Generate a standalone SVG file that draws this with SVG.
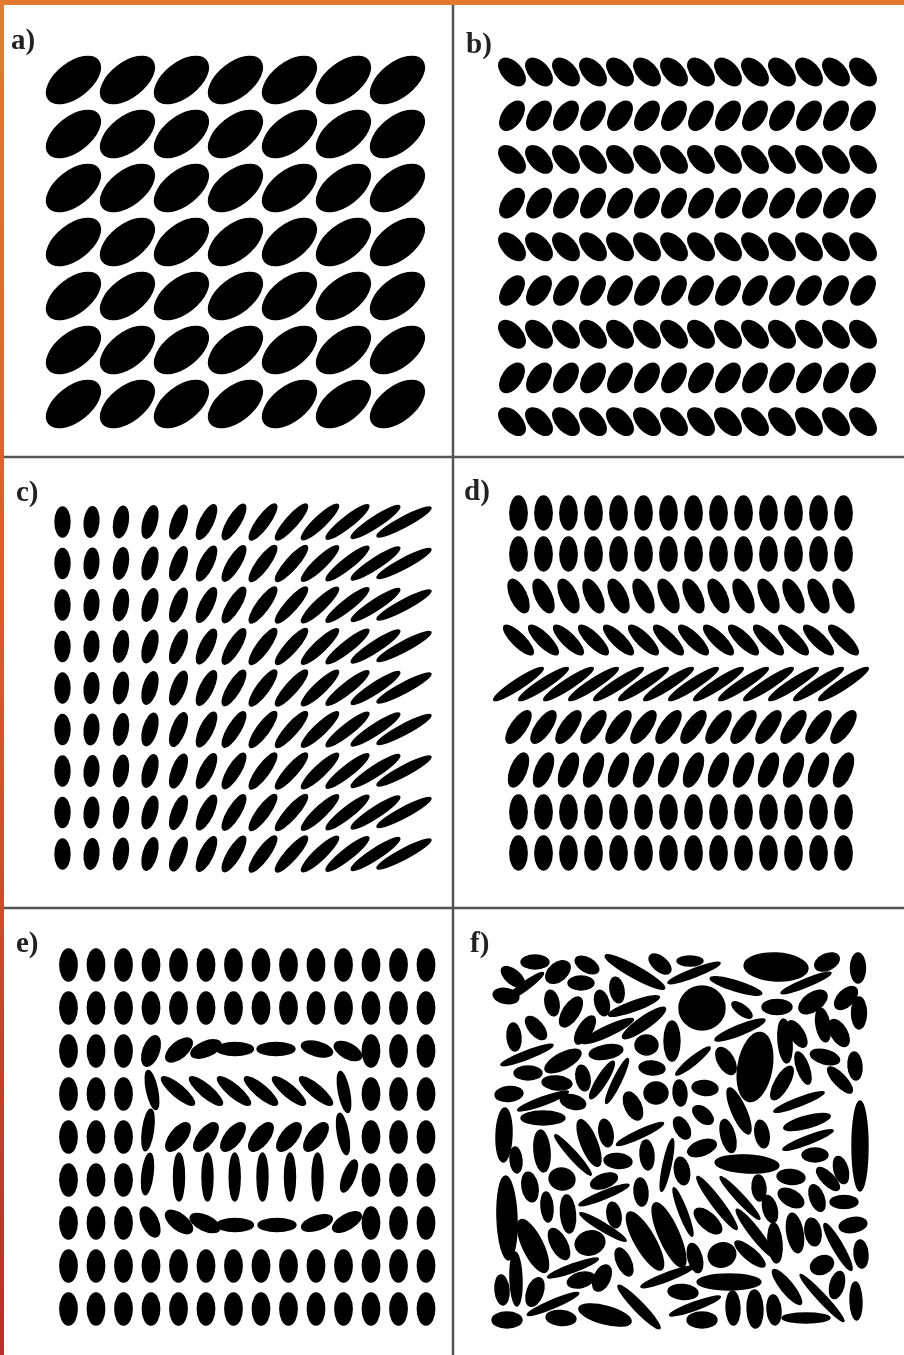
<svg xmlns="http://www.w3.org/2000/svg" xmlns:xlink="http://www.w3.org/1999/xlink" width="904" height="1355" viewBox="0 0 904 1355">
<style>
.lbl{font-family:"Liberation Serif","Times New Roman",serif;font-weight:bold;font-size:29px;fill:#222}
.grid{stroke:#555;stroke-width:2.5;fill:none}
ellipse{fill:#000;stroke:#000;stroke-width:1.4}
</style>
<defs>
<filter id="soft" x="-5%" y="-5%" width="110%" height="110%"><feGaussianBlur stdDeviation="0.7"/></filter>
<linearGradient id="lg" x1="0" y1="0" x2="0" y2="1"><stop offset="0" stop-color="#e27b2f"/><stop offset="0.5" stop-color="#d65a2b"/><stop offset="1" stop-color="#b3322a"/></linearGradient>
<ellipse id="aS" rx="31.5" ry="17" transform="rotate(-38)"/>
<g id="aRow"><use href="#aS" x="73.5"/><use href="#aS" x="127.5"/><use href="#aS" x="181.5"/><use href="#aS" x="235.5"/><use href="#aS" x="289.5"/><use href="#aS" x="343.5"/><use href="#aS" x="397.5"/></g>
<ellipse id="bA" rx="16.5" ry="9.5" transform="rotate(47)"/>
<ellipse id="bB" rx="16.5" ry="9.5" transform="rotate(-55)"/>
<g id="bRowA"><use href="#bA" x="512"/><use href="#bA" x="539"/><use href="#bA" x="566"/><use href="#bA" x="593"/><use href="#bA" x="620"/><use href="#bA" x="647"/><use href="#bA" x="674"/><use href="#bA" x="701"/><use href="#bA" x="728"/><use href="#bA" x="755"/><use href="#bA" x="782"/><use href="#bA" x="809"/><use href="#bA" x="836"/><use href="#bA" x="863"/></g>
<g id="bRowB"><use href="#bB" x="512"/><use href="#bB" x="539"/><use href="#bB" x="566"/><use href="#bB" x="593"/><use href="#bB" x="620"/><use href="#bB" x="647"/><use href="#bB" x="674"/><use href="#bB" x="701"/><use href="#bB" x="728"/><use href="#bB" x="755"/><use href="#bB" x="782"/><use href="#bB" x="809"/><use href="#bB" x="836"/><use href="#bB" x="863"/></g>
<g id="cRow">
<ellipse rx="15" ry="7.5" transform="translate(62.5,0) rotate(-90)"/>
<ellipse rx="15.3" ry="7.3" transform="translate(91.5,0) rotate(-84.8)"/>
<ellipse rx="15.9" ry="7.1" transform="translate(121,0) rotate(-79.7)"/>
<ellipse rx="16.7" ry="6.9" transform="translate(150,0) rotate(-74.5)"/>
<ellipse rx="17.8" ry="6.7" transform="translate(178.5,0) rotate(-69.3)"/>
<ellipse rx="18.9" ry="6.5" transform="translate(206.5,0) rotate(-64.2)"/>
<ellipse rx="20.3" ry="6.3" transform="translate(234,0) rotate(-59)"/>
<ellipse rx="21.8" ry="6.1" transform="translate(263,0) rotate(-53.8)"/>
<ellipse rx="23.4" ry="5.9" transform="translate(291.5,0) rotate(-48.7)"/>
<ellipse rx="25.1" ry="5.7" transform="translate(320,0) rotate(-43.5)"/>
<ellipse rx="27" ry="5.5" transform="translate(347.5,0) rotate(-38.3)"/>
<ellipse rx="28.9" ry="5.3" transform="translate(375.5,0) rotate(-33.2)"/>
<ellipse rx="30.5" ry="5.1" transform="translate(404,0) rotate(-28)"/>
</g>
<ellipse id="dV" rx="8.7" ry="17"/>
<ellipse id="d3" rx="18" ry="8" transform="rotate(65)"/>
<ellipse id="d4" rx="20" ry="6.5" transform="rotate(45)"/>
<ellipse id="d5" rx="29.5" ry="5" transform="rotate(-33)"/>
<ellipse id="d6" rx="19" ry="7.5" transform="rotate(-55)"/>
<ellipse id="d7" rx="18" ry="8" transform="rotate(-68)"/>
<g id="dRV"><use href="#dV" x="518.5"/><use href="#dV" x="543.5"/><use href="#dV" x="568.5"/><use href="#dV" x="593.5"/><use href="#dV" x="618.5"/><use href="#dV" x="643.5"/><use href="#dV" x="668.5"/><use href="#dV" x="693.5"/><use href="#dV" x="718.5"/><use href="#dV" x="743.5"/><use href="#dV" x="768.5"/><use href="#dV" x="793.5"/><use href="#dV" x="818.5"/><use href="#dV" x="843.5"/></g>
<g id="dR3"><use href="#d3" x="518.5"/><use href="#d3" x="543.5"/><use href="#d3" x="568.5"/><use href="#d3" x="593.5"/><use href="#d3" x="618.5"/><use href="#d3" x="643.5"/><use href="#d3" x="668.5"/><use href="#d3" x="693.5"/><use href="#d3" x="718.5"/><use href="#d3" x="743.5"/><use href="#d3" x="768.5"/><use href="#d3" x="793.5"/><use href="#d3" x="818.5"/><use href="#d3" x="843.5"/></g>
<g id="dR4"><use href="#d4" x="518.5"/><use href="#d4" x="543.5"/><use href="#d4" x="568.5"/><use href="#d4" x="593.5"/><use href="#d4" x="618.5"/><use href="#d4" x="643.5"/><use href="#d4" x="668.5"/><use href="#d4" x="693.5"/><use href="#d4" x="718.5"/><use href="#d4" x="743.5"/><use href="#d4" x="768.5"/><use href="#d4" x="793.5"/><use href="#d4" x="818.5"/><use href="#d4" x="843.5"/></g>
<g id="dR5"><use href="#d5" x="518.5"/><use href="#d5" x="543.5"/><use href="#d5" x="568.5"/><use href="#d5" x="593.5"/><use href="#d5" x="618.5"/><use href="#d5" x="643.5"/><use href="#d5" x="668.5"/><use href="#d5" x="693.5"/><use href="#d5" x="718.5"/><use href="#d5" x="743.5"/><use href="#d5" x="768.5"/><use href="#d5" x="793.5"/><use href="#d5" x="818.5"/><use href="#d5" x="843.5"/></g>
<g id="dR6"><use href="#d6" x="518.5"/><use href="#d6" x="543.5"/><use href="#d6" x="568.5"/><use href="#d6" x="593.5"/><use href="#d6" x="618.5"/><use href="#d6" x="643.5"/><use href="#d6" x="668.5"/><use href="#d6" x="693.5"/><use href="#d6" x="718.5"/><use href="#d6" x="743.5"/><use href="#d6" x="768.5"/><use href="#d6" x="793.5"/><use href="#d6" x="818.5"/><use href="#d6" x="843.5"/></g>
<g id="dR7"><use href="#d7" x="518.5"/><use href="#d7" x="543.5"/><use href="#d7" x="568.5"/><use href="#d7" x="593.5"/><use href="#d7" x="618.5"/><use href="#d7" x="643.5"/><use href="#d7" x="668.5"/><use href="#d7" x="693.5"/><use href="#d7" x="718.5"/><use href="#d7" x="743.5"/><use href="#d7" x="768.5"/><use href="#d7" x="793.5"/><use href="#d7" x="818.5"/><use href="#d7" x="843.5"/></g>
<ellipse id="eV" rx="8.7" ry="16"/>
<g id="eSide"><use href="#eV" x="68.5"/><use href="#eV" x="96"/><use href="#eV" x="123.5"/><use href="#eV" x="371"/><use href="#eV" x="398.5"/><use href="#eV" x="426"/></g>
<g id="eRow"><use href="#eSide"/><use href="#eV" x="151"/><use href="#eV" x="178.5"/><use href="#eV" x="206"/><use href="#eV" x="233.5"/><use href="#eV" x="261"/><use href="#eV" x="288.5"/><use href="#eV" x="316"/><use href="#eV" x="343.5"/></g>
</defs>

<rect width="904" height="1355" fill="#fff"/>
<rect x="0" y="0" width="904" height="5" fill="#e07a2e"/>
<rect x="0" y="0" width="4" height="1355" fill="url(#lg)"/>

<g id="grid" class="grid">
<line x1="453" y1="5" x2="453" y2="1355"/>
<line x1="4" y1="457" x2="904" y2="457"/>
<line x1="4" y1="908" x2="904" y2="908"/>
</g>

<g id="panel-a" filter="url(#soft)">
<use href="#aRow" y="80"/><use href="#aRow" y="134"/><use href="#aRow" y="188"/><use href="#aRow" y="242"/><use href="#aRow" y="296"/><use href="#aRow" y="350"/><use href="#aRow" y="404"/>
</g>

<g id="panel-b" filter="url(#soft)">
<use href="#bRowA" y="72"/><use href="#bRowB" y="115.7"/><use href="#bRowA" y="159.4"/><use href="#bRowB" y="203.1"/><use href="#bRowA" y="246.8"/><use href="#bRowB" y="290.5"/><use href="#bRowA" y="334.2"/><use href="#bRowB" y="377.9"/><use href="#bRowA" y="421.6"/>
</g>

<g id="panel-c" filter="url(#soft)">
<use href="#cRow" y="522"/><use href="#cRow" y="563.5"/><use href="#cRow" y="605"/><use href="#cRow" y="646.5"/><use href="#cRow" y="688"/><use href="#cRow" y="729.5"/><use href="#cRow" y="771"/><use href="#cRow" y="812.5"/><use href="#cRow" y="854"/>
</g>

<g id="panel-d" filter="url(#soft)">
<use href="#dRV" y="513"/><use href="#dRV" y="554"/><use href="#dR3" y="596"/><use href="#dR4" y="640"/><use href="#dR5" y="684"/><use href="#dR6" y="727"/><use href="#dR7" y="770"/><use href="#dRV" y="812"/><use href="#dRV" y="853"/>
</g>

<g id="panel-e" filter="url(#soft)">
<use href="#eRow" y="965"/><use href="#eRow" y="1008"/>
<use href="#eSide" y="1051"/>
<ellipse rx="16" ry="8" transform="translate(151,1051) rotate(-70)"/>
<ellipse rx="16" ry="8" transform="translate(179,1050) rotate(-40)"/>
<ellipse rx="16" ry="7.5" transform="translate(206,1049) rotate(-22)"/>
<ellipse rx="18.5" ry="6.5" transform="translate(235,1049)"/>
<ellipse rx="19" ry="6.5" transform="translate(276,1049)"/>
<ellipse rx="16" ry="7" transform="translate(317,1049) rotate(15)"/>
<ellipse rx="15" ry="7.5" transform="translate(348,1051) rotate(28)"/>
<use href="#eSide" y="1094"/>
<ellipse rx="20" ry="5.5" transform="translate(152,1090) rotate(78)"/>
<ellipse rx="21" ry="6" transform="translate(178,1091) rotate(40)"/>
<ellipse rx="21" ry="6" transform="translate(206,1091) rotate(40)"/>
<ellipse rx="21" ry="6" transform="translate(234,1091) rotate(40)"/>
<ellipse rx="21" ry="6" transform="translate(261,1091) rotate(40)"/>
<ellipse rx="21" ry="6" transform="translate(289,1091) rotate(40)"/>
<ellipse rx="21" ry="6" transform="translate(316,1091) rotate(40)"/>
<ellipse rx="21" ry="5.5" transform="translate(344,1092) rotate(79)"/>
<use href="#eSide" y="1137"/>
<ellipse rx="21" ry="5.5" transform="translate(148,1130) rotate(-82)"/>
<ellipse rx="17" ry="8" transform="translate(178,1137) rotate(-52)"/>
<ellipse rx="17" ry="8" transform="translate(206,1137) rotate(-52)"/>
<ellipse rx="17" ry="8" transform="translate(233,1137) rotate(-52)"/>
<ellipse rx="17" ry="8" transform="translate(261,1137) rotate(-52)"/>
<ellipse rx="17" ry="8" transform="translate(289,1137) rotate(-52)"/>
<ellipse rx="17" ry="8" transform="translate(316,1137) rotate(-52)"/>
<ellipse rx="21" ry="5.5" transform="translate(343,1134) rotate(80)"/>
<use href="#eSide" y="1180"/>
<ellipse rx="21" ry="5.5" transform="translate(147.5,1174) rotate(-83)"/>
<ellipse rx="5.5" ry="24" transform="translate(179,1177)"/>
<ellipse rx="5.5" ry="24" transform="translate(207.5,1177)"/>
<ellipse rx="5.5" ry="24" transform="translate(234.7,1177)"/>
<ellipse rx="5.5" ry="24" transform="translate(262.5,1177)"/>
<ellipse rx="5.5" ry="24" transform="translate(290,1177)"/>
<ellipse rx="5.5" ry="24" transform="translate(317.5,1177)"/>
<ellipse rx="17" ry="6" transform="translate(349,1176) rotate(-68)"/>
<use href="#eSide" y="1223"/>
<ellipse rx="16" ry="8" transform="translate(150,1222) rotate(65)"/>
<ellipse rx="16" ry="8" transform="translate(179,1222) rotate(38)"/>
<ellipse rx="16" ry="7.5" transform="translate(205,1223) rotate(25)"/>
<ellipse rx="18.5" ry="6.5" transform="translate(235,1225)"/>
<ellipse rx="19" ry="6.5" transform="translate(277,1225)"/>
<ellipse rx="16" ry="7" transform="translate(317,1223) rotate(-18)"/>
<ellipse rx="16" ry="7.5" transform="translate(347,1222) rotate(-30)"/>
<use href="#eRow" y="1266"/><use href="#eRow" y="1309"/>
</g>

<g id="panel-f" filter="url(#soft)">
<ellipse rx="14" ry="7" transform="translate(535,962)"/>
<ellipse rx="14" ry="7" transform="translate(513,977) rotate(40)"/>
<ellipse rx="14" ry="9" transform="translate(558,972) rotate(-40)"/>
<ellipse rx="13" ry="7" transform="translate(587,965) rotate(30)"/>
<ellipse rx="34" ry="6" transform="translate(635,972) rotate(29)"/>
<ellipse rx="13" ry="7" transform="translate(660,964) rotate(40)"/>
<ellipse rx="13" ry="5" transform="translate(690,961)"/>
<ellipse rx="28" ry="4" transform="translate(694,973) rotate(-21)"/>
<ellipse rx="32" ry="14" transform="translate(776,967) rotate(3)"/>
<ellipse rx="13" ry="8" transform="translate(827,962) rotate(-25)"/>
<ellipse rx="15" ry="7.5" transform="translate(858,968) rotate(90)"/>
<ellipse rx="27" ry="5" transform="translate(736,986) rotate(17)"/>
<ellipse rx="27" ry="4" transform="translate(806,983) rotate(-22)"/>
<ellipse rx="13" ry="7.5" transform="translate(506,996) rotate(10)"/>
<ellipse rx="24" ry="4" transform="translate(524,987) rotate(-36)"/>
<ellipse rx="13" ry="7" transform="translate(552,1003) rotate(80)"/>
<ellipse rx="13" ry="7" transform="translate(581,983)"/>
<ellipse rx="17" ry="8" transform="translate(571,1012) rotate(-57)"/>
<ellipse rx="13" ry="7" transform="translate(602,1003) rotate(75)"/>
<ellipse rx="13" ry="7" transform="translate(617,990) rotate(80)"/>
<ellipse rx="23" ry="22" transform="translate(702,1008)"/>
<ellipse rx="27" ry="5" transform="translate(634,1006) rotate(-20)"/>
<ellipse rx="26" ry="6" transform="translate(644,1023) rotate(-35)"/>
<ellipse rx="12" ry="5" transform="translate(742,1010) rotate(37)"/>
<ellipse rx="15" ry="7.5" transform="translate(777,1007)"/>
<ellipse rx="16" ry="9" transform="translate(813,1002) rotate(-35)"/>
<ellipse rx="14" ry="8" transform="translate(846,998) rotate(-45)"/>
<ellipse rx="16" ry="7.5" transform="translate(859,1013) rotate(90)"/>
<ellipse rx="14" ry="7" transform="translate(536,1028) rotate(50)"/>
<ellipse rx="14" ry="7" transform="translate(514,1037) rotate(85)"/>
<ellipse rx="16" ry="7" transform="translate(585,1030) rotate(-58)"/>
<ellipse rx="28" ry="5" transform="translate(608,1031) rotate(-25)"/>
<ellipse rx="11.5" ry="10" transform="translate(646.5,1045)"/>
<ellipse rx="20" ry="8" transform="translate(672,1041) rotate(90)"/>
<ellipse rx="27" ry="5" transform="translate(740,1030) rotate(-22)"/>
<ellipse rx="35" ry="17" transform="translate(755,1067) rotate(-80)"/>
<ellipse rx="15" ry="8" transform="translate(726,1061) rotate(60)"/>
<ellipse rx="22" ry="7" transform="translate(785,1041) rotate(85)"/>
<ellipse rx="15" ry="7" transform="translate(797,1034) rotate(58)"/>
<ellipse rx="17" ry="7" transform="translate(823,1025) rotate(80)"/>
<ellipse rx="15" ry="8" transform="translate(839,1033) rotate(60)"/>
<ellipse rx="28" ry="4" transform="translate(527,1055) rotate(-21)"/>
<ellipse rx="14" ry="7" transform="translate(528,1073)"/>
<ellipse rx="20" ry="8" transform="translate(563,1061) rotate(-28)"/>
<ellipse rx="17" ry="7" transform="translate(606,1052) rotate(-10)"/>
<ellipse rx="15" ry="7" transform="translate(557,1083) rotate(5)"/>
<ellipse rx="13" ry="7" transform="translate(583,1078) rotate(80)"/>
<ellipse rx="22" ry="5" transform="translate(602,1080) rotate(-58)"/>
<ellipse rx="25" ry="4" transform="translate(617,1081) rotate(-64)"/>
<ellipse rx="13" ry="7" transform="translate(652,1068) rotate(5)"/>
<ellipse rx="22" ry="4" transform="translate(693,1061) rotate(-39)"/>
<ellipse rx="15" ry="7" transform="translate(825,1057) rotate(15)"/>
<ellipse rx="14" ry="7" transform="translate(855,1066) rotate(85)"/>
<ellipse rx="19" ry="7" transform="translate(782,1083) rotate(-60)"/>
<ellipse rx="17" ry="6" transform="translate(803,1068) rotate(70)"/>
<ellipse rx="17" ry="6" transform="translate(840,1080) rotate(47)"/>
<ellipse rx="27" ry="4" transform="translate(799,1102) rotate(-21)"/>
<ellipse rx="14" ry="7.5" transform="translate(509,1094) rotate(-5)"/>
<ellipse rx="27" ry="4" transform="translate(543,1101) rotate(-20)"/>
<ellipse rx="13" ry="7" transform="translate(573,1102) rotate(15)"/>
<ellipse rx="15" ry="8" transform="translate(633,1106) rotate(65)"/>
<ellipse rx="12" ry="11" transform="translate(656,1093)"/>
<ellipse rx="13" ry="7" transform="translate(680,1093) rotate(85)"/>
<ellipse rx="13" ry="7.5" transform="translate(705,1088) rotate(5)"/>
<ellipse rx="22" ry="7" transform="translate(543,1118)"/>
<ellipse rx="27" ry="8" transform="translate(504,1135) rotate(-88)"/>
<ellipse rx="12" ry="7" transform="translate(703,1115) rotate(40)"/>
<ellipse rx="25" ry="7" transform="translate(739,1111) rotate(66)"/>
<ellipse rx="13" ry="6" transform="translate(516,1160) rotate(85)"/>
<ellipse rx="21" ry="8" transform="translate(542,1151) rotate(85)"/>
<ellipse rx="27" ry="4" transform="translate(573,1155) rotate(48)"/>
<ellipse rx="25" ry="8" transform="translate(589,1143) rotate(68)"/>
<ellipse rx="14" ry="7" transform="translate(606,1133) rotate(80)"/>
<ellipse rx="26" ry="4" transform="translate(640,1134) rotate(-25)"/>
<ellipse rx="14" ry="7.5" transform="translate(618,1161) rotate(5)"/>
<ellipse rx="15" ry="7" transform="translate(647,1155) rotate(85)"/>
<ellipse rx="27" ry="4" transform="translate(667,1165) rotate(-78)"/>
<ellipse rx="12" ry="7" transform="translate(682,1128) rotate(60)"/>
<ellipse rx="15" ry="7.5" transform="translate(702,1148) rotate(-20)"/>
<ellipse rx="17" ry="7" transform="translate(728,1136) rotate(75)"/>
<ellipse rx="14" ry="7" transform="translate(762,1134) rotate(80)"/>
<ellipse rx="24" ry="6" transform="translate(807,1122) rotate(-15)"/>
<ellipse rx="27" ry="4" transform="translate(808,1140) rotate(-21)"/>
<ellipse rx="32" ry="9" transform="translate(747,1164) rotate(3)"/>
<ellipse rx="45" ry="8" transform="translate(860,1146) rotate(90)"/>
<ellipse rx="13" ry="7" transform="translate(815,1155)"/>
<ellipse rx="14" ry="7" transform="translate(841,1170) rotate(75)"/>
<ellipse rx="15" ry="6" transform="translate(828,1179) rotate(45)"/>
<ellipse rx="14" ry="7.5" transform="translate(791,1177) rotate(5)"/>
<ellipse rx="14" ry="7" transform="translate(817,1198) rotate(70)"/>
<ellipse rx="14" ry="6.5" transform="translate(844,1202)"/>
<ellipse rx="14" ry="8" transform="translate(791,1198) rotate(30)"/>
<ellipse rx="13" ry="7" transform="translate(759,1188) rotate(85)"/>
<ellipse rx="14" ry="7" transform="translate(770,1209) rotate(75)"/>
<ellipse rx="33" ry="5" transform="translate(717,1203) rotate(53)"/>
<ellipse rx="29" ry="4" transform="translate(740,1198) rotate(47)"/>
<ellipse rx="14" ry="7.5" transform="translate(682,1171) rotate(80)"/>
<ellipse rx="14" ry="7" transform="translate(641,1192) rotate(85)"/>
<ellipse rx="27" ry="4" transform="translate(604,1195) rotate(-22)"/>
<ellipse rx="14" ry="7" transform="translate(604,1181) rotate(-20)"/>
<ellipse rx="13" ry="11" transform="translate(562,1179) rotate(10)"/>
<ellipse rx="15" ry="8" transform="translate(530,1187) rotate(80)"/>
<ellipse rx="42" ry="10" transform="translate(507,1218) rotate(88)"/>
<ellipse rx="15" ry="6" transform="translate(547,1207) rotate(85)"/>
<ellipse rx="19" ry="7.5" transform="translate(568,1214) rotate(85)"/>
<ellipse rx="13" ry="7" transform="translate(614,1215) rotate(80)"/>
<ellipse rx="27" ry="4" transform="translate(603,1227) rotate(31)"/>
<ellipse rx="33" ry="10" transform="translate(645,1241) rotate(60)"/>
<ellipse rx="35" ry="10" transform="translate(669,1235) rotate(66)"/>
<ellipse rx="26" ry="4" transform="translate(683,1212) rotate(69)"/>
<ellipse rx="17" ry="8" transform="translate(708,1221) rotate(42)"/>
<ellipse rx="30" ry="5" transform="translate(755,1233) rotate(52)"/>
<ellipse rx="19" ry="6" transform="translate(750,1254) rotate(40)"/>
<ellipse rx="14" ry="12" transform="translate(722,1255) rotate(-20)"/>
<ellipse rx="15" ry="7" transform="translate(695,1258) rotate(75)"/>
<ellipse rx="20" ry="7" transform="translate(775,1243) rotate(85)"/>
<ellipse rx="20" ry="8" transform="translate(795,1233) rotate(80)"/>
<ellipse rx="14" ry="8" transform="translate(813,1232) rotate(80)"/>
<ellipse rx="27" ry="5" transform="translate(838,1247) rotate(60)"/>
<ellipse rx="14" ry="7.5" transform="translate(853,1225) rotate(-10)"/>
<ellipse rx="14" ry="7" transform="translate(861,1254) rotate(85)"/>
<ellipse rx="12" ry="9" transform="translate(822,1265) rotate(-25)"/>
<ellipse rx="14" ry="7" transform="translate(837,1285) rotate(-75)"/>
<ellipse rx="19" ry="6" transform="translate(856,1301) rotate(88)"/>
<ellipse rx="32" ry="4" transform="translate(822,1298) rotate(47)"/>
<ellipse rx="22" ry="6" transform="translate(787,1287) rotate(51)"/>
<ellipse rx="24" ry="5" transform="translate(806,1318)"/>
<ellipse rx="15" ry="7" transform="translate(774,1310) rotate(85)"/>
<ellipse rx="19" ry="8" transform="translate(755,1309) rotate(88)"/>
<ellipse rx="17" ry="7" transform="translate(733,1308) rotate(88)"/>
<ellipse rx="32" ry="8" transform="translate(729,1282)"/>
<ellipse rx="15" ry="7.5" transform="translate(683,1292) rotate(5)"/>
<ellipse rx="28" ry="4" transform="translate(667,1277) rotate(-21)"/>
<ellipse rx="27" ry="4" transform="translate(695,1306) rotate(-20)"/>
<ellipse rx="15" ry="8" transform="translate(702,1320)"/>
<ellipse rx="30" ry="5" transform="translate(639,1307) rotate(46)"/>
<ellipse rx="15" ry="7" transform="translate(624,1262) rotate(65)"/>
<ellipse rx="14" ry="8" transform="translate(602,1278) rotate(-65)"/>
<ellipse rx="15" ry="12" transform="translate(590,1243) rotate(-15)"/>
<ellipse rx="17" ry="8" transform="translate(559,1244) rotate(62)"/>
<ellipse rx="29" ry="10" transform="translate(533,1246) rotate(64)"/>
<ellipse rx="27" ry="4" transform="translate(573,1268) rotate(-20)"/>
<ellipse rx="14" ry="7.5" transform="translate(581,1280) rotate(-15)"/>
<ellipse rx="27" ry="6" transform="translate(516,1279) rotate(88)"/>
<ellipse rx="15" ry="7" transform="translate(502,1290) rotate(85)"/>
<ellipse rx="15" ry="8" transform="translate(535,1292) rotate(-70)"/>
<ellipse rx="28" ry="4" transform="translate(553,1304) rotate(-23)"/>
<ellipse rx="15" ry="8" transform="translate(507,1320)"/>
<ellipse rx="15" ry="7.5" transform="translate(561,1318) rotate(5)"/>
<ellipse rx="27" ry="9" transform="translate(605,1315) rotate(15)"/>
</g>

<g id="labels" class="lbl">
<text x="11" y="49">a)</text>
<text x="466" y="53">b)</text>
<text x="16" y="501">c)</text>
<text x="464" y="500">d)</text>
<text x="16" y="952">e)</text>
<text x="470" y="952">f)</text>
</g>
</svg>
